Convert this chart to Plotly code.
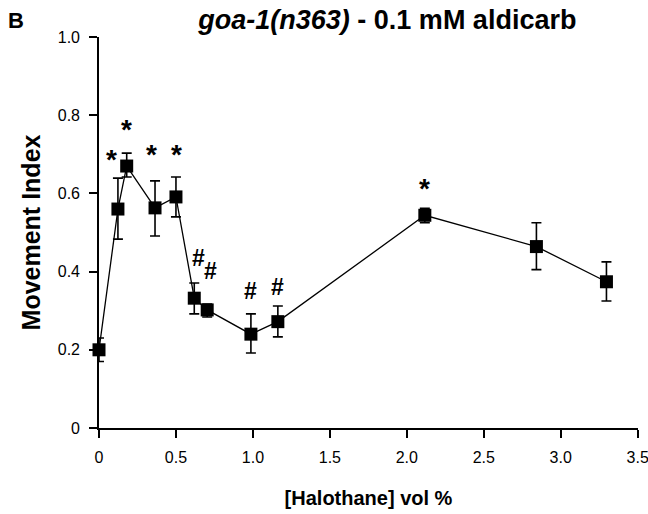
import plotly.graph_objects as go

# Data
halothane = [0.0, 0.123, 0.18, 0.364, 0.50, 0.619, 0.703, 0.987, 1.162, 2.117, 2.842, 3.297]
movement = [0.20, 0.56, 0.67, 0.563, 0.591, 0.332, 0.302, 0.24, 0.272, 0.544, 0.464, 0.374]
err_plus = [0.03, 0.079, 0.033, 0.069, 0.051, 0.039, 0.015, 0.052, 0.04, 0.018, 0.061, 0.051]
err_minus = [0.03, 0.077, 0.028, 0.072, 0.051, 0.04, 0.018, 0.048, 0.039, 0.019, 0.059, 0.049]

sig_labels = ["", "*", "*", "*", "*", "#", "#", "#", "#", "*", "", ""]
sig_y = [None, 0.703, 0.78, 0.714, 0.716, 0.432, 0.399, 0.348, 0.358, 0.629, None, None]
sig_dx = [0, -0.039, 0, -0.02, 0.006, 0.03, 0.024, 0, 0, 0, 0, 0]

x_ticks = [0, 0.5, 1.0, 1.5, 2.0, 2.5, 3.0, 3.5]
x_tick_text = ["0", "0.5", "1.0", "1.5", "2.0", "2.5", "3.0", "3.5"]
y_ticks = [0, 0.2, 0.4, 0.6, 0.8, 1.0]
y_tick_text = ["0", "0.2", "0.4", "0.6", "0.8", "1.0"]

FONT = "Liberation Sans, Arial, sans-serif"

fig = go.Figure()
fig.add_trace(go.Scatter(
    x=halothane, y=movement, mode="lines+markers",
    line=dict(color="black", width=1.3),
    marker=dict(symbol="square", size=13, color="black"),
    error_y=dict(type="data", symmetric=False, array=err_plus, arrayminus=err_minus,
                 color="black", thickness=1.6, width=5),
    cliponaxis=False, showlegend=False,
))

for xv, lab, yv, dx in zip(halothane, sig_labels, sig_y, sig_dx):
    if lab:
        if lab == "*":
            fig.add_annotation(x=xv + dx, y=yv, text="<b>*</b>", showarrow=False,
                               font=dict(family=FONT, size=28, color="black"),
                               yanchor="middle", yshift=-6)
        else:
            fig.add_annotation(x=xv + dx, y=yv, text="<b>#</b>", showarrow=False,
                               font=dict(family=FONT, size=23, color="black"),
                               yanchor="middle", yshift=1)

fig.add_annotation(xref="paper", yref="paper", x=-0.172, y=1.043, text="<b>B</b>",
                   showarrow=False, font=dict(family=FONT, size=22, color="black"),
                   xanchor="left", yanchor="middle")

fig.update_layout(
    width=648, height=514,
    margin=dict(l=99, r=10, t=37, b=86, autoexpand=False),
    paper_bgcolor="white", plot_bgcolor="white",
    font=dict(family=FONT, color="black"),
    title=dict(text="<b><i>goa-1(n363)</i> - 0.1 mM aldicarb</b>",
               xref="paper", x=0.535, xanchor="center", y=0.962, yanchor="middle",
               font=dict(family=FONT, size=27, color="black")),
    xaxis=dict(range=[0, 3.502], tickvals=x_ticks, ticktext=x_tick_text,
               automargin=False,
               showgrid=False, zeroline=False, showline=True, linecolor="black", linewidth=1.6,
               ticks="outside", ticklen=8, tickwidth=1.6, tickcolor="black",
               ticklabelstandoff=6, ticklabeloverflow="allow",
               tickfont=dict(family=FONT, size=16, color="black"),
               title=dict(text="<b>[Halothane] vol %</b>", standoff=26,
                          font=dict(family=FONT, size=20, color="black"))),
    yaxis=dict(range=[0, 1.0], tickvals=y_ticks, ticktext=y_tick_text,
               automargin=False,
               showgrid=False, zeroline=False, showline=True, linecolor="black", linewidth=1.6,
               ticks="outside", ticklen=8, tickwidth=1.6, tickcolor="black",
               ticklabelstandoff=6,
               tickfont=dict(family=FONT, size=16, color="black"),
               title=dict(text="<b>Movement Index</b>", standoff=10,
                          font=dict(family=FONT, size=25, color="black"))),
)
fig.update_xaxes(tickprefix="<b>", ticksuffix="</b>")
fig.update_yaxes(tickprefix="<b>", ticksuffix="</b>")

fig.write_html("out.html")
